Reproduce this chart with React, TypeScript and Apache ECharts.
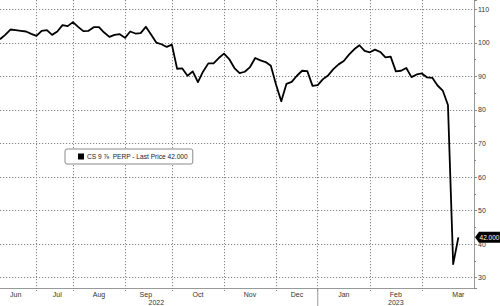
import { useEffect, useRef } from "react";
import * as echarts from "echarts";

const seriesName = "CS 9 ⅞  PERP";
const lastPriceText = "Last Price";
const months = ["Jun", "Jul", "Aug", "Sep", "Oct", "Nov", "Dec", "Jan", "Feb", "Mar"];
const monthPointCounts = [7, 7, 10, 9, 10, 10, 8, 10, 10, 11];
const monthLabelIndex = [3, 11, 19, 28, 38, 48, 57, 66, 76, 88];
const yearLabels = [
  { text: "2022", index: 30 },
  { text: "2023", index: 76 },
];
const yearStartMonth = "Jan";

const prices: (number | null)[] = [
  101.1, 102.4, 104.0, 103.8, 103.6, 103.4, 102.7,
  102.1, 103.6, 103.8, 102.4, 103.4, 105.3, 105.0,
  106.2, 104.8, 103.5, 103.6, 104.7, 104.7, 103.1, 101.8, 102.4, 102.6,
  101.5, 103.4, 102.8, 102.9, 104.8, 102.5, 100.1, 99.6, 98.8,
  99.5, 92.3, 92.4, 90.2, 91.5, 88.3, 91.5, 93.9, 93.9, 95.5,
  96.8, 95.2, 92.5, 91.0, 91.4, 92.8, 95.5, 94.8, 94.3, 93.2,
  87.5, 82.6, 87.8, 88.4, 90.2, 91.7, 91.6, 87.2,
  87.4, 89.2, 90.3, 92.2, 93.6, 94.6, 96.5, 98.1, 99.3, 97.6,
  97.2, 98.0, 97.3, 95.7, 95.9, 91.5, 91.7, 92.5, 89.8, 90.6,
  90.9, 89.7, 89.6, 87.3, 85.8, 81.5, 34.0, 42.0, null, null, null,
];

export default function App() {
  const ref = useRef<HTMLDivElement>(null);

  useEffect(() => {
    if (!ref.current) return;
    const chart = echarts.init(ref.current, undefined, { renderer: "svg" });

    const categories: string[] = [];
    const boundaries = new Set<number>();
    let yearBoundary = -1;
    months.forEach((m, mi) => {
      for (let k = 0; k < monthPointCounts[mi]; k++) {
        if (k === 0 && mi > 0) boundaries.add(categories.length);
        if (k === 0 && m === yearStartMonth) yearBoundary = categories.length;
        categories.push(`${m} ${k + 1}`);
      }
    });

    const labelMap = new Map<number, string>();
    monthLabelIndex.forEach((idx, mi) => labelMap.set(idx, months[mi]));
    yearLabels.forEach((y) => {
      const existing = labelMap.get(y.index);
      labelMap.set(y.index, existing ? `${existing}\n${y.text}` : `\n${y.text}`);
    });

    let lastIdx = prices.length - 1;
    while (lastIdx > 0 && prices[lastIdx] == null) lastIdx--;
    const lastPrice = prices[lastIdx] as number;

    const font = "Liberation Sans, Arial, sans-serif";
    const gridColor = "#858585";
    const gridDash = [1.2, 1.8];

    chart.setOption({
      animation: false,
      backgroundColor: "#ffffff",
      grid: { left: 0, right: 26, top: 0, bottom: 17, containLabel: false },
      legend: {
        left: 65,
        top: 149,
        padding: [4, 5, 4, 13],
        itemWidth: 6,
        itemHeight: 6,
        itemGap: 4,
        selectedMode: false,
        borderColor: "#8a8a8a",
        borderWidth: 1,
        borderRadius: 2,
        backgroundColor: "#ffffff",
        data: [{ name: seriesName, icon: "rect", itemStyle: { color: "#000" } }],
        formatter: (name: string) => `${name} - ${lastPriceText} ${lastPrice.toFixed(3)}`,
        textStyle: { fontSize: 6.6, color: "#222", fontFamily: font, padding: [0, 0, 0, -2] },
      },
      xAxis: {
        type: "category",
        boundaryGap: false,
        data: categories,
        axisLine: { show: true, lineStyle: { color: "#999", width: 1 } },
        axisTick: {
          show: true,
          interval: (i: number) => boundaries.has(i),
          length: 3,
          lineStyle: { color: gridColor, type: [1, 1] },
        },
        splitLine: {
          show: true,
          interval: (i: number) => boundaries.has(i),
          lineStyle: { color: gridColor, type: gridDash, width: 1 },
        },
        axisLabel: {
          interval: (i: number) => labelMap.has(i),
          formatter: (_v: string, i: number) => labelMap.get(i) ?? "",
          fontSize: 7,
          lineHeight: 8,
          margin: 2,
          color: "#333",
          fontFamily: font,
        },
      },
      yAxis: {
        type: "value",
        position: "right",
        min: 26.9,
        max: 112.8,
        splitNumber: 8,
        axisLine: { show: true, lineStyle: { color: "#999", width: 1 } },
        axisTick: { show: true, length: 3, lineStyle: { color: "#888" } },
        minorTick: { show: true, splitNumber: 2, length: 2, lineStyle: { color: "#888" } },
        splitLine: {
          show: true,
          showMinLine: false,
          showMaxLine: false,
          lineStyle: { color: gridColor, type: gridDash, width: 1 },
        },
        axisLabel: {
          showMinLabel: false,
          showMaxLabel: false,
          fontSize: 7,
          margin: 4,
          color: "#333",
          fontFamily: font,
          formatter: (v: number) => (Math.abs(v % 10) < 1e-6 ? String(Math.round(v)) : ""),
        },
      },
      series: [
        {
          name: seriesName,
          type: "line",
          data: prices,
          showSymbol: false,
          symbol: "none",
          color: "#000",
          lineStyle: { color: "#000", width: 1.8, join: "round" },
        },
      ],
    });

    const xSep = chart.convertToPixel({ xAxisIndex: 0 }, yearBoundary) as number;
    const yLast = chart.convertToPixel({ yAxisIndex: 0 }, lastPrice) as number;
    const gridBottom = 306 - 17;

    chart.setOption({
      graphic: [
        {
          type: "line",
          shape: { x1: xSep, y1: gridBottom, x2: xSep, y2: 306 },
          style: { stroke: "#999", lineWidth: 1 },
        },
        {
          type: "rect",
          shape: { x: 68, y: 157, width: 3, height: 4 },
          style: { fill: "#aaa" },
        },
        {
          type: "polygon",
          shape: {
            points: [
              [475, yLast],
              [479, yLast - 5.5],
              [500, yLast - 5.5],
              [500, yLast + 5.5],
              [479, yLast + 5.5],
            ],
          },
          style: { fill: "#000" },
        },
        {
          type: "text",
          x: 489.5,
          y: yLast,
          style: {
            text: lastPrice.toFixed(3),
            fill: "#fff",
            fontSize: 6.5,
            fontFamily: font,
            align: "center",
            verticalAlign: "middle",
          },
        },
      ],
    });

    return () => chart.dispose();
  }, []);

  return (
    <div
      ref={ref}
      style={{ position: "fixed", left: 0, top: 0, width: 500, height: 306, background: "#fff" }}
    />
  );
}
